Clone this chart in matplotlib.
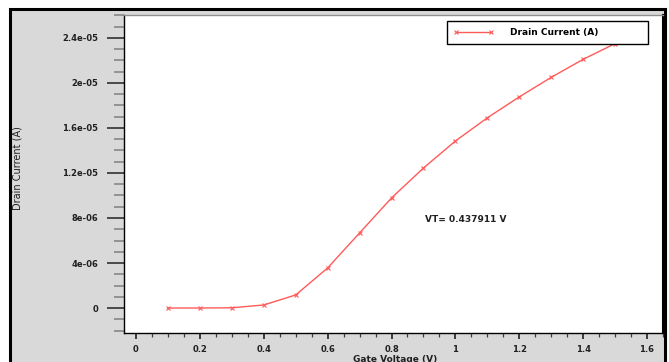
import numpy as np
import matplotlib.pyplot as plt
from matplotlib.patches import Rectangle
from matplotlib.ticker import MultipleLocator, FuncFormatter

gate_voltage = [0.1, 0.2, 0.3, 0.4, 0.5, 0.6, 0.7, 0.8, 0.9, 1.0, 1.1, 1.2, 1.3, 1.4, 1.5]
drain_current = [0.0, 0.0, 0.02e-6, 0.27e-6, 1.16e-6, 3.56e-6, 6.67e-6, 9.78e-6,
                 12.44e-6, 14.84e-6, 16.9e-6, 18.76e-6, 20.5e-6, 22.1e-6, 23.5e-6]
y_ticks = [0, 4e-6, 8e-6, 1.2e-5, 1.6e-5, 2e-5, 2.4e-5]
y_tick_labels = ['0', '4e-06', '8e-06', '1.2e-05', '1.6e-05', '2e-05', '2.4e-05']
x_ticks = [0, 0.2, 0.4, 0.6, 0.8, 1.0, 1.2, 1.4, 1.6]
x_tick_labels = ['0', '0.2', '0.4', '0.6', '0.8', '1', '1.2', '1.4', '1.6']
vt_text = 'VT= 0.437911 V'

W, H = 669, 362
fig = plt.figure(figsize=(W / 100, H / 100), dpi=100, facecolor='white')

# grey panel with black frame
fig.patches.append(Rectangle((9.5 / W, -0.05), 655.5 / W, (H - 8.5) / H + 0.05,
                             transform=fig.transFigure, facecolor='#d9d9d9',
                             edgecolor='black', linewidth=2.2, zorder=-5))

ax = fig.add_axes([124 / W, (H - 333) / H, (663 - 124) / W, (333 - 15) / H])
ax.set_zorder(2)
ax.set_facecolor('white')

ax.plot(gate_voltage, drain_current, color='#ff5a5a', linewidth=1.0,
        marker='x', markersize=3.5, markeredgewidth=0.8, label='Drain Current (A)')

ax.set_xlim(-0.0375, 1.65)
ax.set_ylim(-2.22e-6, 2.604e-5)

ax.set_xticks(x_ticks)
ax.set_xticklabels(x_tick_labels)
ax.set_yticks(y_ticks)
ax.set_yticklabels(y_tick_labels)
ax.xaxis.set_minor_locator(MultipleLocator(0.05))
ax.yaxis.set_minor_locator(MultipleLocator(1e-6))

ax.tick_params(axis='y', which='major', direction='out', length=12.5, width=1.2,
               color='#303030', pad=6)
ax.tick_params(axis='y', which='minor', direction='out', length=7, width=1.1,
               color='#808080')
ax.tick_params(axis='x', which='major', direction='out', length=4.5, width=1.2,
               color='#202020', pad=4.5)
ax.tick_params(axis='x', which='minor', direction='out', length=3, width=0.9,
               color='#404040')
for lab in ax.get_xticklabels() + ax.get_yticklabels():
    lab.set_fontsize(6)
    lab.set_fontweight('bold')
    lab.set_color('#202020')

for side in ['left', 'bottom']:
    ax.spines[side].set_color('black')
    ax.spines[side].set_linewidth(1.0)
ax.spines['top'].set_color('#909090')
ax.spines['top'].set_linewidth(1.0)
ax.spines['right'].set_color('black')
ax.spines['right'].set_linewidth(1.5)

ax.set_xlabel('Gate Voltage (V)', fontsize=6.5, fontweight='bold', color='#202020')
ax.xaxis.set_label_coords((395 - 124) / 539, (333 - 354.5) / 318)
ax.set_ylabel('Drain Current (A)', fontsize=7,
              family=['Liberation Sans Narrow', 'DejaVu Sans'], color='#202020')
ax.yaxis.set_label_coords((22 - 124) / 539, (333 - 168) / 318)

ax.text((466 - 124) / 539, (333 - 220) / 318, vt_text, transform=ax.transAxes,
        ha='center', va='center', fontsize=6.5, fontweight='bold', color='#202020')

leg = ax.legend(loc='upper left', bbox_to_anchor=((447 - 124) / 539, (333 - 21) / 318,
                                                  (648 - 447) / 539, 0.0),
                mode='expand', borderaxespad=0, numpoints=2, handlelength=4.4,
                handletextpad=1.8, borderpad=0.75, fancybox=False, framealpha=1,
                prop={'size': 6.5, 'weight': 'bold'})
leg.get_frame().set_edgecolor('black')
leg.get_frame().set_linewidth(1.0)

fig.savefig('out.png', dpi=100, facecolor='white')
